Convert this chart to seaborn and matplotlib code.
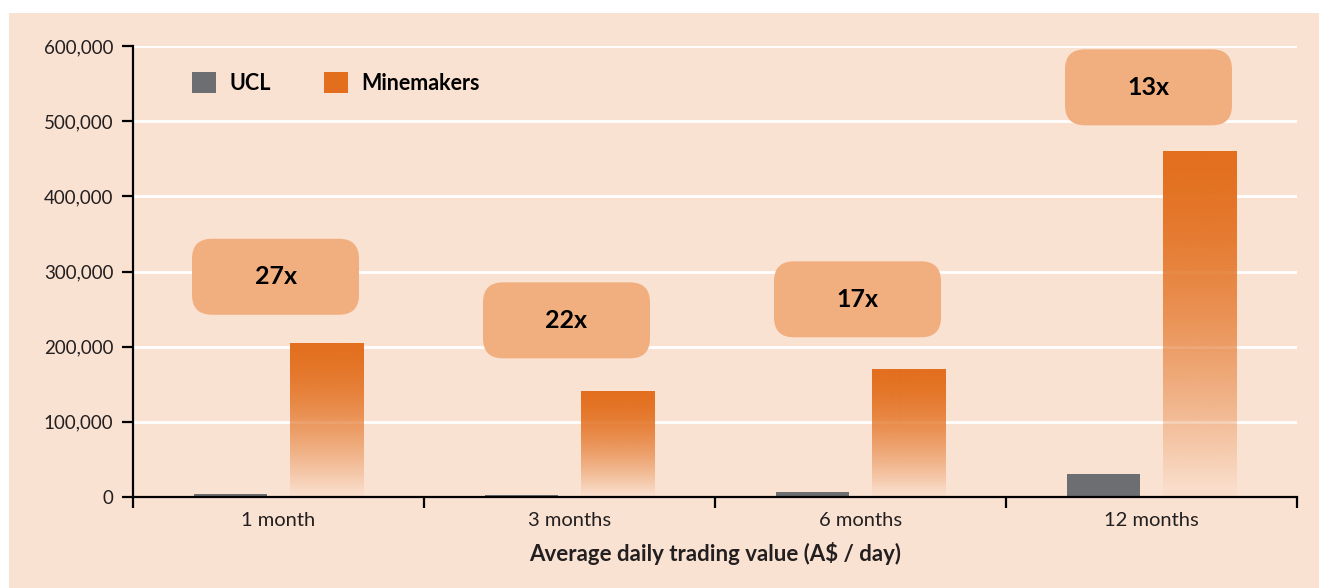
import numpy as np
import pandas as pd
import matplotlib
matplotlib.use("Agg")
import matplotlib.pyplot as plt
import seaborn as sns
from matplotlib.patches import Rectangle, FancyBboxPatch, Patch
from matplotlib.ticker import FuncFormatter, FixedLocator

# ---- data ----
periods = ["1 month", "3 months", "6 months", "12 months"]
ucl = [4000, 3000, 7000, 31000]
minemakers = [205000, 141000, 170000, 460000]
ratio_labels = ["27x", "22x", "17x", "13x"]
ratio_label_y = [293000, 235000, 263000, 545000]
series_names = ["UCL", "Minemakers"]
yticks = [0, 100000, 200000, 300000, 400000, 500000, 600000]

# ---- style ----
BG = "#FAE2D2"
GRAY = "#6D6E71"
ORANGE = "#E36F1E"
BOX = "#F1AF80"
TXT = "#231F20"

sns.set_theme(style="white")
plt.rcParams["font.family"] = ["Lato", "DejaVu Sans"]

df = pd.DataFrame({
    "period": periods * 2,
    "company": [series_names[0]] * len(periods) + [series_names[1]] * len(periods),
    "value": ucl + minemakers,
})

fig = plt.figure(figsize=(13.19, 5.88), dpi=100, facecolor="white")
fig.patches.append(Rectangle((9 / 1319, 0), 1, 1 - 13 / 588, transform=fig.transFigure,
                             facecolor=BG, edgecolor="none", zorder=-10))
ax = fig.add_axes([133 / 1319, 1 - 497 / 588, (1297 - 133) / 1319, (497 - 46) / 588])
ax.set_facecolor("none")

sns.barplot(data=df, x="period", y="value", hue="company", order=periods,
            hue_order=series_names, palette=[GRAY, ORANGE], saturation=1,
            width=0.66, gap=0.23, errorbar=None, legend=False, ax=ax, zorder=3,
            linewidth=0, edgecolor="none")

ax.set_xlim(-0.5, len(periods) - 0.5)
ax.set_ylim(0, 600000)

# gradient on Minemakers bars
n = 256
t = np.linspace(0, 1, n)
rgb = np.array(matplotlib.colors.to_rgb(ORANGE))
grad = np.zeros((n, 1, 4))
grad[:, 0, :3] = rgb
grad[:, 0, 3] = np.clip(1 - t ** 1.6, 0.04, 1)
mm_patches = [p for p in ax.patches
              if np.allclose(p.get_facecolor()[:3], rgb, atol=0.02)]
for p in mm_patches:
    x0, y0, w, h = p.get_x(), p.get_y(), p.get_width(), p.get_height()
    p.set_facecolor("none")
    p.set_linewidth(0)
    im = ax.imshow(grad, extent=[x0, x0 + w, y0, y0 + h], aspect="auto",
                   origin="upper", zorder=3, interpolation="bilinear")
    im.set_clip_path(p)
ax.set_xlim(-0.5, len(periods) - 0.5)
ax.set_ylim(0, 600000)

# grid
ax.set_yticks(yticks)
ax.yaxis.grid(True, color="white", linewidth=2, zorder=1)
ax.xaxis.grid(False)
ax.set_axisbelow(True)

# spines / ticks
for s in ["top", "right"]:
    ax.spines[s].set_visible(False)
for s in ["left", "bottom"]:
    ax.spines[s].set_color("black")
    ax.spines[s].set_linewidth(1.6)
    ax.spines[s].set_zorder(5)

ax.yaxis.set_major_formatter(FuncFormatter(lambda v, _: f"{int(v):,}"))
ax.tick_params(axis="y", which="major", direction="out", length=8, width=1.6,
               color="black", pad=6, labelsize=13.5, labelcolor=TXT, left=True)
ax.tick_params(axis="x", which="major", length=0, pad=11, labelsize=14.5, labelcolor=TXT)
ax.xaxis.set_minor_locator(FixedLocator(np.arange(-0.5, len(periods), 1.0)))
ax.tick_params(axis="x", which="minor", direction="out", length=8, width=1.6,
               color="black", bottom=True)

ax.set_ylabel("")
ax.set_xlabel("Average daily trading value (A$ / day)", fontsize=16,
              fontweight="bold", color=TXT, labelpad=9)

# ratio boxes
fig.canvas.draw()
inv = ax.transData.inverted()
p0 = inv.transform((0, 0))
p1 = inv.transform((1, 1))
xu_per_px = p1[0] - p0[0]
yu_per_px = p1[1] - p0[1]
box_w = 167 * xu_per_px
box_h = 76 * yu_per_px
aspect = yu_per_px / xu_per_px
for i, (lab, yc) in enumerate(zip(ratio_labels, ratio_label_y)):
    xc = i - 3 * xu_per_px
    bx = FancyBboxPatch((xc - box_w / 2, yc - box_h / 2), box_w, box_h,
                        boxstyle=f"round,pad=0,rounding_size={20 * xu_per_px}",
                        mutation_aspect=aspect, facecolor=BOX, edgecolor="none",
                        zorder=6)
    ax.add_patch(bx)
    ax.text(xc, yc, lab, ha="center", va="center", fontsize=18,
            fontweight="bold", color="black", zorder=7)

# legend
handles = [Patch(facecolor=GRAY, edgecolor="none"),
           Patch(facecolor=ORANGE, edgecolor="none")]
leg = ax.legend(handles, series_names, ncol=2, frameon=False,
                loc="upper left", bbox_to_anchor=(59 / 1164, 1 - 26 / 451),
                prop={"weight": "bold", "size": 15.5},
                handlelength=1.12, handleheight=1.12, handletextpad=0.6,
                columnspacing=2.5, borderpad=0, borderaxespad=0)
for txt in leg.get_texts():
    txt.set_color("black")

fig.savefig("out.png", dpi=100, facecolor="white")
